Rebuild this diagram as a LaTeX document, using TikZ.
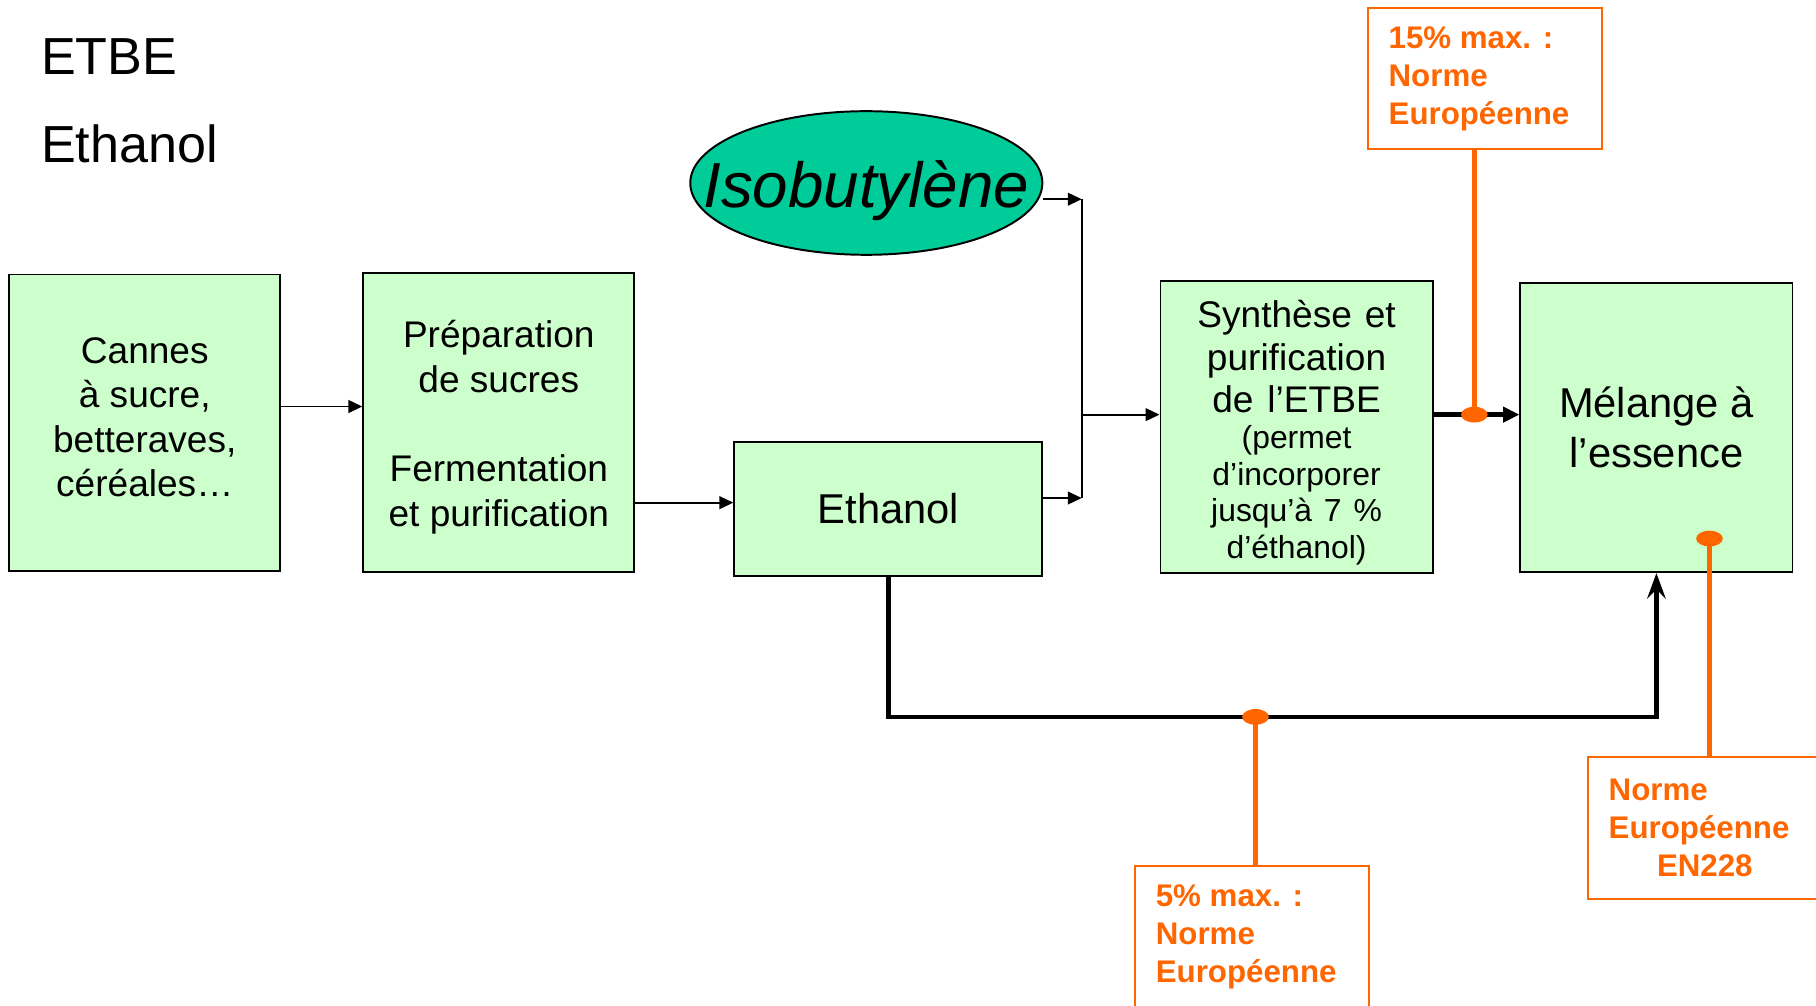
\documentclass[tikz,border=0pt]{standalone}
\usepackage{fontspec}
\setmainfont{Liberation Sans}
\usepackage{xcolor}
\usepackage{tikz}
\usetikzlibrary{positioning, shapes.geometric, arrows.meta}

\definecolor{vertclair}{HTML}{CCFFCC}
\definecolor{turquoise}{HTML}{00CC99}
\definecolor{normorange}{HTML}{FF6600}

\begin{document}
\begin{tikzpicture}[x=1pt, y=-1pt, node distance=70pt,
    greenbox/.style={draw, fill=vertclair, line width=1.7pt, inner sep=0pt, align=center},
    normbox/.style={draw=normorange, line width=1.7pt, minimum height=122pt, text width=166pt,
      inner xsep=18pt, align=left, text=normorange, font=\fontsize{27}{33}\selectfont\bfseries},
    arr/.style={-{Triangle[length=12pt,width=11pt]}, line width=1.5pt},
    thickarr/.style={-{Triangle[length=14pt,width=13pt]}, line width=4pt},
    looparr/.style={-{Stealth[length=22pt,width=16pt,inset=8pt]}, line width=4pt},
    orangeline/.style={draw=normorange, line width=3.8pt},
    orangedot/.style={fill=normorange}]
                \clip (0,0) rectangle (1568,868);
                \fill[white] (0,0) rectangle (1568,868);

                \node[anchor=base west, font=\fontsize{45}{54}\selectfont] (titre) at (32,64) {ETBE};
                \node[anchor=base west, font=\fontsize{45}{54}\selectfont] (soustitre) at (32,140) {Ethanol};

                \node[greenbox, minimum width=234pt, minimum height=256pt, font=\fontsize{32}{38.5}\selectfont] (cannes) at (125,365) {Cannes\\à sucre,\\betteraves,\\céréales…\\[-28.5pt]};
                \node[greenbox, minimum width=234pt, minimum height=258pt, right=70pt of cannes, font=\fontsize{32}{38.5}\selectfont] (prep) {\rule{0pt}{31pt}Préparation\\de sucres\\[38.5pt]Fermentation\\et purification};
                \node[greenbox, minimum width=266pt, minimum height=115pt, font=\fontsize{36}{43}\selectfont] (ethanol) at (767,439.5) {Ethanol};
                \node[ellipse, draw, fill=turquoise, line width=1.7pt, minimum width=304pt, minimum height=124pt, inner sep=0pt,
                  text height=42pt, text depth=0pt, font=\fontsize{55}{66}\selectfont\itshape] (isob) at (748,158) {\makebox[0pt]{Isobutylène}};
                \node[greenbox, minimum width=235pt, minimum height=252pt, text width=235pt, font=\fontsize{32}{36.5}\selectfont] (synth) at (1119.5,369)
                  {\spaceskip=0pt\xspaceskip=0pt\rule{0pt}{33pt}Synthèse et\\purification\\de l’ETBE\par
                   {\fontsize{27.5}{31.5}\selectfont (permet\\d’incorporer\\jusqu’à 7 \%\\d’éthanol)\par}};
                \node[greenbox, minimum width=235pt, minimum height=250pt, right=74pt of synth, font=\fontsize{36}{43}\selectfont] (melange) {Mélange à\\l’essence};

                \node[normbox] (norme15) at (1282,68) {\spaceskip=0pt\xspaceskip=0pt 15\% max. :\\Norme\\Européenne};
                \node[normbox] (norme5) at (1081,809) {\spaceskip=0pt\xspaceskip=0pt 5\% max. :\\Norme\\Européenne};
                \node[normbox] (normeEN) at (1472,715) {Norme\\Européenne\\\hspace*{\fill}EN228\hspace*{\fill}};

                % jonction isobutylene / ethanol
                \coordinate (jhaut) at (934,172);
                \coordinate (jbas) at (934,430);
                \coordinate (dotsynth) at (1273,358);
                \coordinate (dotloop) at (1084,619);
                \coordinate (dotmel) at (1476,465);

                \draw[arr] ([yshift=14pt]cannes.east) -- ([yshift=14pt]cannes.east -| prep.west);
                \draw[arr] ([yshift=5.5pt]ethanol.west -| prep.east) -- ([yshift=5.5pt]ethanol.west);
                \draw[arr] (isob.east |- jhaut) -- (jhaut);
                \draw[arr] ([yshift=9.5pt]ethanol.east) -- (jbas);
                \draw[line width=1.5pt] (jhaut) -- (jbas);
                \draw[arr] ([yshift=11pt]synth.west -| jhaut) -- ([yshift=11pt]synth.west);
                \draw[thickarr] ([yshift=11pt]synth.east) -- ([yshift=11pt]synth.east -| melange.west);
                \draw[looparr] (ethanol.south) |- (dotloop) -| (melange.south);

                \draw[orangeline] (dotsynth |- norme15.south) -- (dotsynth);
                \draw[orangeline] (dotloop) -- (dotloop |- norme5.north);
                \draw[orangeline] (dotmel) -- (dotmel |- normeEN.north);
                \fill[orangedot] (dotsynth) ellipse [x radius=11.5pt, y radius=6.8pt];
                \fill[orangedot] (dotloop) ellipse [x radius=11.5pt, y radius=6.8pt];
                \fill[orangedot] (dotmel) ellipse [x radius=11.5pt, y radius=6.8pt];
              \end{tikzpicture}
\end{document}
